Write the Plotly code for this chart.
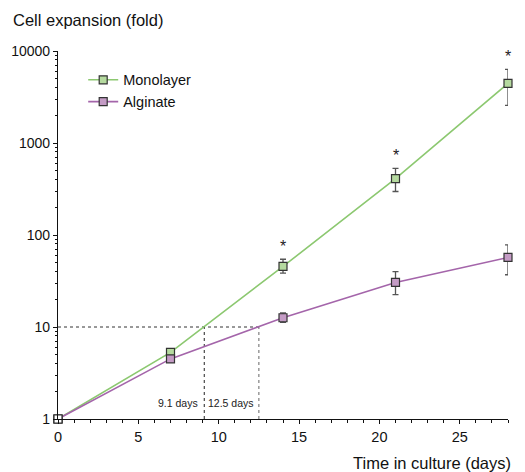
import numpy as np
import plotly.graph_objects as go

days = [0, 7, 14, 21, 28]
mono = [1, 5.3, 45.5, 410, 4450]
mono_hi = [1, 5.3, 54.5, 530, 6300]
mono_lo = [1, 5.3, 38.5, 297, 2560]
alg = [1, 4.5, 12.6, 30.5, 57]
alg_hi = [1, 4.5, 14.2, 40, 78]
alg_lo = [1, 4.5, 11.2, 22.5, 37]
star_days = [14, 21, 28]
star_vals = [54.5, 530, 6300]
dbl_mono, dbl_alg = 9.1, 12.5

GREEN_L, GREEN_F = "#8cc870", "#b5da9f"
PURP_L, PURP_F = "#a465aa", "#c49bc5"
FONT = "Liberation Sans, Arial, Helvetica, sans-serif"

fig = go.Figure()

# dashed guide lines
fig.add_trace(go.Scatter(x=[0, dbl_alg], y=[10, 10], mode="lines",
                         line=dict(color="#333", width=1, dash="3px,3px"),
                         showlegend=False, hoverinfo="skip"))
fig.add_trace(go.Scatter(x=[dbl_mono, dbl_mono], y=[1, 10], mode="lines",
                         line=dict(color="#222", width=1, dash="3px,3px"),
                         showlegend=False, hoverinfo="skip"))
fig.add_trace(go.Scatter(x=[dbl_alg, dbl_alg], y=[1, 10], mode="lines",
                         line=dict(color="#666", width=1, dash="3px,3px"),
                         showlegend=False, hoverinfo="skip"))

def series(name, vals, hi, lo, lc, fc):
    fig.add_trace(go.Scatter(
        x=days, y=vals, name=name, mode="lines+markers",
        line=dict(color=lc, width=1.6),
        marker=dict(symbol="square", size=8, color=fc,
                    line=dict(color="#333", width=1.2)),
        error_y=dict(type="data", symmetric=False,
                     array=[h - v for h, v in zip(hi, vals)],
                     arrayminus=[v - l for l, v in zip(lo, vals)],
                     color="#555", thickness=1.3, width=3),
        cliponaxis=False))

series("Monolayer", mono, mono_hi, mono_lo, GREEN_L, GREEN_F)
series("Alginate", alg, alg_hi, alg_lo, PURP_L, PURP_F)

# common starting point (day 0) drawn as open square
fig.add_trace(go.Scatter(x=days[:1], y=mono[:1], mode="markers", showlegend=False,
                         marker=dict(symbol="square", size=8, color="white",
                                     line=dict(color="#333", width=1.2)),
                         cliponaxis=False, hoverinfo="skip"))

for d, v in zip(star_days, star_vals):
    fig.add_annotation(x=d, y=np.log10(v), text="*", showarrow=False,
                       yanchor="bottom", yshift=2, font=dict(size=16, color="#222", family=FONT))

fig.add_annotation(x=dbl_mono, y=np.log10(1.5), text="9.1 days", showarrow=False,
                   xanchor="right", xshift=-4, font=dict(size=10.5, color="#222", family=FONT))
fig.add_annotation(x=dbl_alg, y=np.log10(1.5), text="12.5 days", showarrow=False,
                   xanchor="right", xshift=-3, font=dict(size=10.5, color="#222", family=FONT))

PW, PH = 450, 368
fig.add_annotation(xref="paper", yref="paper", x=-47/PW, y=1 + 31/PH,
                   xanchor="left", yanchor="middle", text="Cell expansion (fold)",
                   showarrow=False, font=dict(size=16.5, color="#111", family=FONT))
fig.add_annotation(xref="paper", yref="paper", x=1 + 5/PW, y=-44/PH,
                   xanchor="right", yanchor="middle", text="Time in culture (days)",
                   showarrow=False, font=dict(size=16.5, color="#111", family=FONT))

minor_y = [m * 10 ** k for k in range(4) for m in range(2, 10)]

fig.update_layout(
    width=517, height=464,
    margin=dict(l=50, r=17, t=43, b=53, autoexpand=False),
    paper_bgcolor="white", plot_bgcolor="white",
    font=dict(family=FONT, size=14, color="#111"),
    showlegend=True,
    legend=dict(x=0.056, y=0.965, xanchor="left", yanchor="top",
                bgcolor="rgba(0,0,0,0)", font=dict(size=14.5),
                tracegroupgap=0),
    xaxis=dict(range=[0, 28], showline=True, linecolor="#111", linewidth=1.2,
               ticks="outside", ticklen=4, tickcolor="#111", tickvals=[0, 5, 10, 15, 20, 25],
               tickfont=dict(size=14.5), automargin=False,
               showgrid=False, zeroline=False,
               minor=dict(ticks="outside", ticklen=2.5, dtick=1, tickcolor="#111")),
    yaxis=dict(type="log", range=[0, 4], showline=True, linecolor="#111", linewidth=1.2,
               ticks="outside", ticklen=4, tickcolor="#111",
               tickvals=[1, 10, 100, 1000, 10000], ticktext=["1", "10", "100", "1000", "10000"],
               tickfont=dict(size=14), automargin=False,
               showgrid=False, zeroline=False,
               minor=dict(ticks="outside", ticklen=2, tickvals=minor_y, tickcolor="#111")),
)

fig.write_html("out.html")
